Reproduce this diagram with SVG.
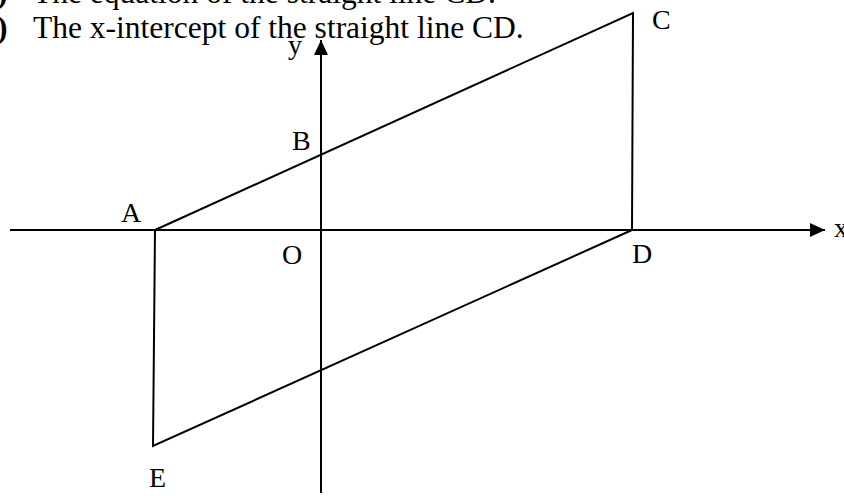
<svg xmlns="http://www.w3.org/2000/svg" width="844" height="496" viewBox="0 0 844 496">
<style>
.t{font-family:"Liberation Serif","Times New Roman",serif;fill:#000}
.q{font-size:31.5px}
.l{font-size:28px}
.ln{stroke:#000;stroke-width:2;fill:none;stroke-linejoin:miter}
</style>
<defs>
<marker id="ah" markerWidth="16" markerHeight="14" refX="15" refY="7" orient="auto" markerUnits="userSpaceOnUse">
<path d="M0,0 L15,7 L0,14 Z" fill="#000"/>
</marker>
</defs>
<rect width="844" height="496" fill="#fff"/>
<g id="question">
<text class="t q" x="-3" y="3" font-weight="bold">)</text>
<text class="t q" x="33" y="3">The  equation of the straight line CD.</text>
<text class="t q" x="-3" y="38" font-weight="bold">)</text>
<text class="t q" x="33" y="38">The x-intercept of the straight line CD.</text>
</g>
<g id="axes">
<line class="ln" x1="10" y1="230" x2="825" y2="230" marker-end="url(#ah)"/>
<line class="ln" x1="321" y1="493" x2="321" y2="40" marker-end="url(#ah)"/>
<text class="t l" x="834" y="237">x</text>
<text class="t l" x="288" y="54">y</text>
<text class="t l" x="282" y="264">O</text>
</g>
<g id="connectors">
<path class="ln" d="M155,230 L633,13 L632,230 L153,446 Z"/>
</g>
<g id="A"><text class="t l" x="121" y="222">A</text></g>
<g id="B"><text class="t l" x="292" y="150">B</text></g>
<g id="C"><text class="t l" x="652" y="29">C</text></g>
<g id="D"><text class="t l" x="632" y="263">D</text></g>
<g id="E"><text class="t l" x="149" y="487">E</text></g>
</svg>
